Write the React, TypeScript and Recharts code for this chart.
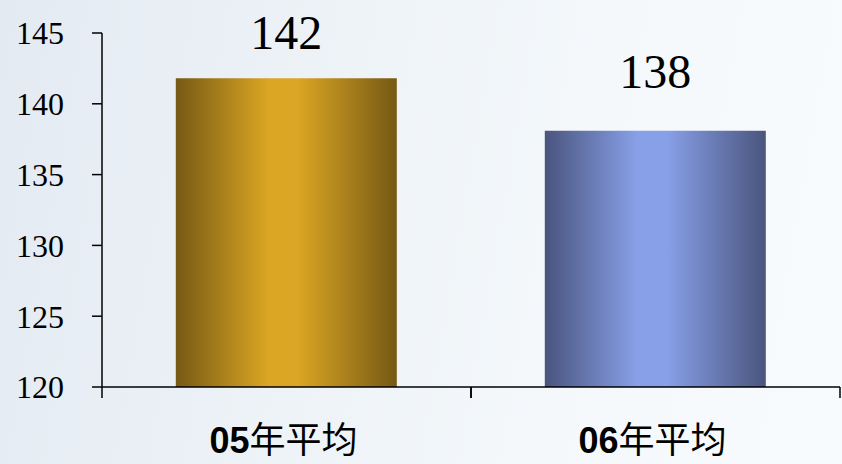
import { Bar, BarChart, Cell, LabelList, XAxis, YAxis } from "recharts";

const categories = ["05年平均", "06年平均"];
const values = [141.8, 138.1];
const valueLabels = ["142", "138"];
const yTicks = [120, 125, 130, 135, 140, 145];

const data = categories.map((name, i) => ({ name, value: values[i], label: valueLabels[i] }));

const gradients = [
    { id: "gold", edge: "#765914", mid: "#dba623" },
    { id: "blue", edge: "#4a557e", mid: "#88a0e8" },
];

function CategoryTick(props: any) {
    const { x, y, payload, width, visibleTicksCount } = props;
    const half = payload?.offset ?? width / (visibleTicksCount || 2) / 2;
    const text: string = payload.value;
    const digits = text.slice(0, 2);
    const rest = text.slice(2);
    return (
        <g>
            <line x1={x - half} y1={y} x2={x - half} y2={y + 11} stroke="#000" strokeWidth={1.5} />
            <line x1={x + half} y1={y} x2={x + half} y2={y + 11} stroke="#000" strokeWidth={1.5} />
            <text x={x - 3} y={y + 66} textAnchor="middle" fontSize={36} fill="#000">
                <tspan fontFamily="'Liberation Sans', Arial, sans-serif" fontWeight="bold">{digits}</tspan>
                <tspan fontFamily="'Noto Sans CJK SC', sans-serif" fontWeight={400}>{rest}</tspan>
            </text>
        </g>
    );
}

function ValueLabel(props: any) {
    const { x, y, width, value } = props;
    // keep the label inside the top of the chart, like the original
    const baseline = Math.max(y - 43, 49);
    return (
        <text
            x={x + width / 2}
            y={baseline}
            textAnchor="middle"
            fontSize={48}
            fontFamily="'Liberation Serif', 'Times New Roman', serif"
            fill="#000"
        >
            {value}
        </text>
    );
}

export default function App() {
    return (
        <div
            style={{
                position: "absolute",
                left: 0,
                top: 0,
                width: 842,
                height: 464,
                background: "linear-gradient(100deg, #e3eaf2 0%, #edf2f7 35%, #f4f8fb 65%, #f8fbfd 100%)",
            }}
        >
            <BarChart
                width={842}
                height={464}
                data={data}
                margin={{ top: 33, right: 2, bottom: 0, left: 1 }}
                barCategoryGap="20%"
            >
                <defs>
                    {gradients.map((g) => (
                        <linearGradient key={g.id} id={g.id} x1="0" y1="0" x2="1" y2="0">
                            <stop offset="0%" stopColor={g.edge} />
                            <stop offset="42%" stopColor={g.mid} />
                            <stop offset="55%" stopColor={g.mid} />
                            <stop offset="100%" stopColor={g.edge} />
                        </linearGradient>
                    ))}
                </defs>
                <XAxis
                    dataKey="name"
                    height={77}
                    tickSize={0}
                    tickMargin={0}
                    tickLine={false}
                    axisLine={{ stroke: "#000", strokeWidth: 1.5 }}
                    tick={<CategoryTick />}
                    interval={0}
                />
                <YAxis
                    width={101}
                    domain={[120, 145]}
                    ticks={yTicks}
                    allowDataOverflow
                    tickSize={10}
                    tickMargin={28}
                    axisLine={{ stroke: "#000", strokeWidth: 1.5 }}
                    tickLine={{ stroke: "#000", strokeWidth: 1.5 }}
                    tick={{
                        fill: "#000",
                        fontSize: 32,
                        fontFamily: "'Liberation Serif', 'Times New Roman', serif",
                    }}
                />
                <Bar dataKey="value" isAnimationActive={false}>
                    {data.map((d, i) => (
                        <Cell key={d.name} fill={`url(#${gradients[i].id})`} />
                    ))}
                    <LabelList dataKey="label" content={<ValueLabel />} />
                </Bar>
            </BarChart>
        </div>
    );
}
